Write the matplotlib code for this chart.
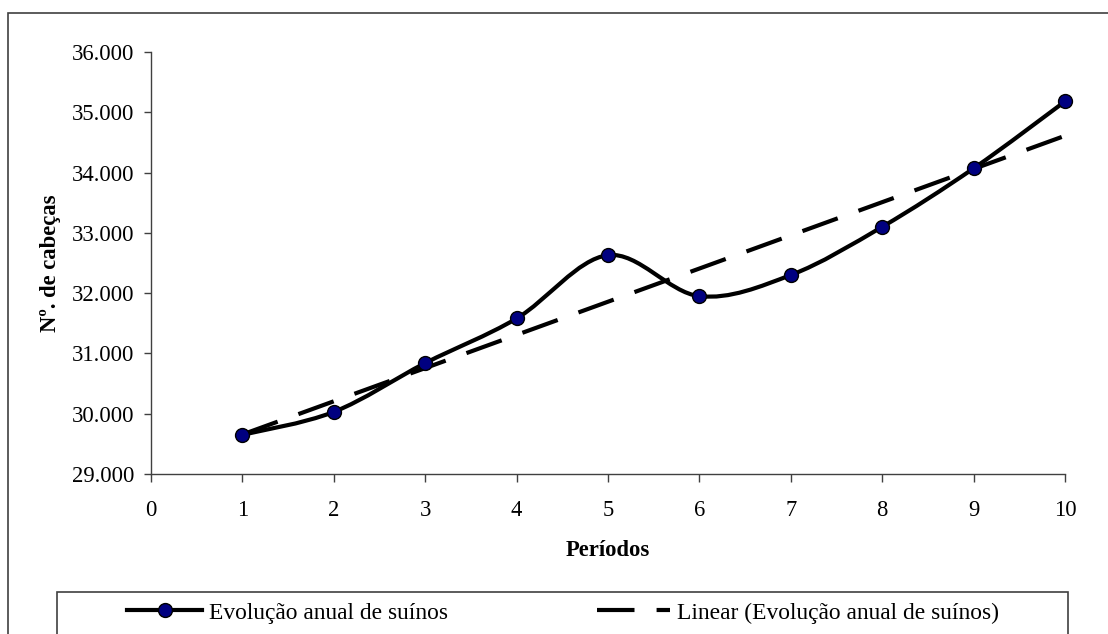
import matplotlib
matplotlib.use("Agg")
import matplotlib.pyplot as plt
import matplotlib.patches as patches
from matplotlib.path import Path
from matplotlib.lines import Line2D
from matplotlib.ticker import FuncFormatter
from matplotlib.font_manager import FontProperties
import numpy as np

plt.rcParams['font.family'] = ['Liberation Serif', 'DejaVu Serif']

periodos = [1, 2, 3, 4, 5, 6, 7, 8, 9, 10]
suinos = [29650, 30030, 30840, 31580, 32630, 31950, 32300, 33100, 34070, 35180]
serie_nome = "Evolução anual de suínos"
trend_nome = "Linear (Evolução anual de suínos)"

FS = 16.3
W, H = 1108, 634
fig = plt.figure(figsize=(W / 100, H / 100), dpi=100)

# outer chart border (right and bottom edges fall outside the image)
fig.add_artist(patches.Rectangle((8 / W, -0.1), 1.2, 1.1 - 13 / H, transform=fig.transFigure,
                                 fill=False, edgecolor='#404040', linewidth=1.2))

ax = fig.add_axes([151 / W, 1 - 474 / H, 914 / W, 422 / H])
ax.set_xlim(0, 10)
ax.set_ylim(29000, 36000)
for s in ['top', 'right']:
    ax.spines[s].set_visible(False)
for s in ['left', 'bottom']:
    ax.spines[s].set_color('#404040')
    ax.spines[s].set_linewidth(1)

# smoothed line like excel (bezier through the points)
x = np.array(periodos, dtype=float)
y = np.array(suinos, dtype=float)
n = len(x)
verts = [(x[0], y[0])]
codes = [Path.MOVETO]
for i in range(n - 1):
    i0 = max(i - 1, 0)
    i3 = min(i + 2, n - 1)
    c1 = (x[i] + (x[i + 1] - x[i0]) / 6, y[i] + (y[i + 1] - y[i0]) / 6)
    c2 = (x[i + 1] - (x[i3] - x[i]) / 6, y[i + 1] - (y[i3] - y[i]) / 6)
    verts += [c1, c2, (x[i + 1], y[i + 1])]
    codes += [Path.CURVE4] * 3
ax.add_patch(patches.PathPatch(Path(verts, codes), fill=False, edgecolor='black',
                               linewidth=3, capstyle='round', joinstyle='round',
                               zorder=3, clip_on=False))

# linear trend
a, b = np.polyfit(x, y, 1)
ax.plot(x, a * x + b, color='black', linewidth=3, dashes=(9, 5.3),
        dash_capstyle='butt', zorder=2, clip_on=False)

ax.plot(x, y, linestyle='none', marker='o', markersize=10, markerfacecolor='#000080',
        markeredgecolor='black', markeredgewidth=1, zorder=4, clip_on=False)

ax.set_xticks(range(0, 11))
ax.set_yticks(range(29000, 36001, 1000))
ax.yaxis.set_major_formatter(FuncFormatter(lambda v, p: f"{int(v):,}".replace(",", ".")))
ax.tick_params(axis='y', direction='out', length=5, width=1, color='#404040',
               labelsize=FS, pad=7)
ax.tick_params(axis='x', direction='out', length=6, width=1, color='#404040',
               labelsize=FS, pad=13)

ax.set_xlabel("Períodos", fontsize=FS, fontweight='bold', va='center')
ax.xaxis.set_label_coords(0.5, (474 - 551) / 422)
ax.set_ylabel("Nº. de cabeças", fontsize=FS, fontweight='bold', va='center')
ax.yaxis.set_label_coords((50 - 151) / 914, 0.5)

# legend frame
fig.add_artist(patches.Rectangle((57 / W, -0.1), (1068 - 57) / W, 0.1 + 1 - 592 / H,
                                 transform=fig.transFigure, fill=False,
                                 edgecolor='#404040', linewidth=1.2))

prop = FontProperties(family=['Liberation Serif', 'DejaVu Serif'], size=16.9)
h1 = Line2D([], [], color='black', linewidth=3, marker='o', markersize=10,
            markerfacecolor='#000080', markeredgecolor='black', markeredgewidth=1)
h2 = Line2D([], [], color='black', linewidth=3, dashes=(9, 5.3), dash_capstyle='butt')
ly = 1 - 613 / H
fig.legend([h1], [serie_nome], loc='center left', bbox_to_anchor=(127 / W, ly),
           frameon=False, prop=prop, handlelength=3.2, handletextpad=0.3,
           borderpad=0, borderaxespad=0, numpoints=1)
fig.legend([h2], [trend_nome], loc='center left', bbox_to_anchor=(597 / W, ly),
           frameon=False, prop=prop, handlelength=3.1, handletextpad=0.3,
           borderpad=0, borderaxespad=0)

fig.savefig("out.png", dpi=100)
